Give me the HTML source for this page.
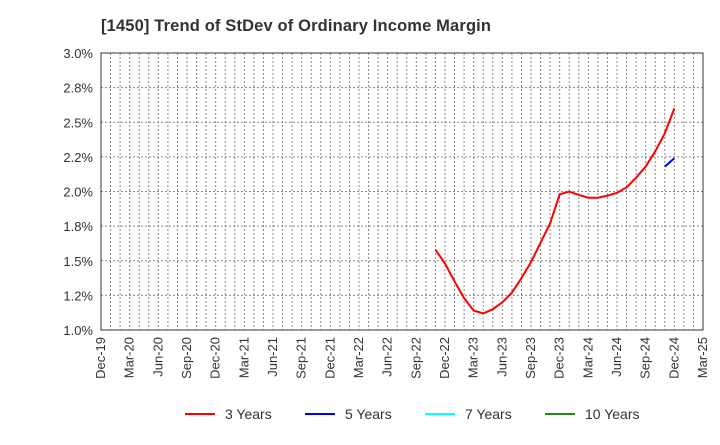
<!DOCTYPE html>
<html><head><meta charset="utf-8"><style>
body{margin:0;background:#fff;font-family:"Liberation Sans",sans-serif}
</style></head><body>
<svg id="c" width="720" height="440" xmlns="http://www.w3.org/2000/svg">
<text x="101" y="31" font-size="16.5" font-weight="bold" fill="#333" textLength="390">[1450]  Trend of StDev of Ordinary Income Margin</text>
</svg>
<script>
const yTicks=[1.0,1.25,1.5,1.75,2.0,2.25,2.5,2.75,3.0];
const yLabels=["1.0%","1.2%","1.5%","1.8%","2.0%","2.2%","2.5%","2.8%","3.0%"];
const xLabels=["Dec-19","Mar-20","Jun-20","Sep-20","Dec-20","Mar-21","Jun-21","Sep-21","Dec-21","Mar-22","Jun-22","Sep-22","Dec-22","Mar-23","Jun-23","Sep-23","Dec-23","Mar-24","Jun-24","Sep-24","Dec-24","Mar-25"];
// month index from Dec-19 (0)
const red3Start=35;
const red3=[1.58,1.48,1.35,1.23,1.14,1.12,1.15,1.2,1.27,1.375,1.49,1.63,1.77,1.98,2.0,1.975,1.955,1.955,1.97,1.99,2.03,2.1,2.18,2.29,2.42,2.6];
const blue5Start=59;
const blue5=[2.18,2.24];
const L=101,R=703,T=53,B=330;
const ns="http://www.w3.org/2000/svg",s=document.getElementById('c');
const X=m=>L+m*(R-L)/63, Y=v=>B-(v-1)/2*(B-T);
function el(t,a){const e=document.createElementNS(ns,t);for(const k in a)e.setAttribute(k,a[k]);s.appendChild(e);return e;}
for(let m=1;m<63;m++){const g=el('line',{x1:X(m),x2:X(m),y1:T,y2:B,stroke:'#888','stroke-dasharray':'2,2','stroke-width':1});
}
yTicks.forEach((v,i)=>{const g=el('line',{x1:L,x2:R,y1:Y(v),y2:Y(v),stroke:'#888','stroke-dasharray':'2,2'});

const t=el('text',{x:L-8,y:Y(v)+5,'text-anchor':'end','font-size':13,fill:'#333'});t.textContent=yLabels[i];
});
xLabels.forEach((lb,i)=>{const x=X(i*3);const t=el('text',{x:0,y:0,'text-anchor':'end','font-size':13,fill:'#333',transform:`translate(${x+4},337) rotate(-90)`});t.textContent=lb;
});
const fr=el('rect',{x:L,y:T,width:R-L,height:B-T,fill:'none',stroke:'#333'});

function line(d,st,c,n){const p=el('polyline',{points:d.map((v,i)=>X(st+i)+','+Y(v)).join(' '),fill:'none',stroke:c,'stroke-width':2});
}
line(red3,red3Start,'#f00','series-3-years');
line(blue5,blue5Start,'#00f','series-5-years');
const leg=[["3 Years","#f00",185],["5 Years","#00f",305],["7 Years","#0ff",425],["10 Years","#228b22",545]];
leg.forEach(([n,c,x])=>{const l=el('line',{x1:x,x2:x+30,y1:414,y2:414,stroke:c,'stroke-width':2});

const t=el('text',{x:x+40,y:419,'font-size':14,fill:'#333'});t.textContent=n;
});
</script>
</body></html>
